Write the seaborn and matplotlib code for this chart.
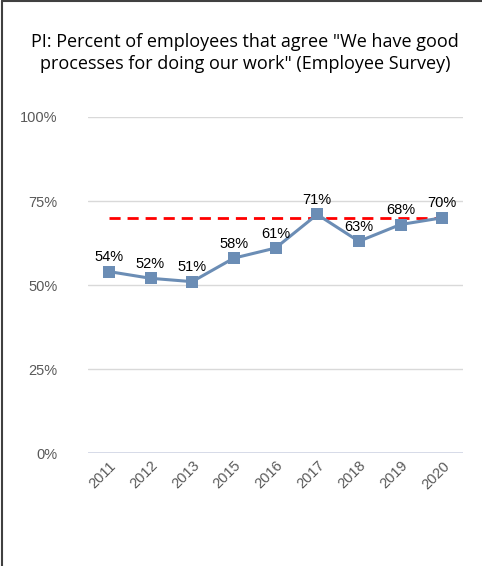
import matplotlib
matplotlib.use("Agg")
import matplotlib.pyplot as plt
from matplotlib.lines import Line2D
import pandas as pd
import seaborn as sns

years = ["2011", "2012", "2013", "2015", "2016", "2017", "2018", "2019", "2020"]
agree_pct = [54, 52, 51, 58, 61, 71, 63, 68, 70]
target_pct = 70

df = pd.DataFrame({"year": years, "pct": agree_pct})

sns.set_theme(style="white")
plt.rcParams["font.family"] = ["Liberation Sans", "DejaVu Sans"]

fig = plt.figure(figsize=(4.82, 5.66), dpi=100)
ax = fig.add_axes([0.1826, 0.1996, 0.778, 0.5937])

# gridlines
for v in [25, 50, 75, 100]:
    ax.axhline(v, color="#d9d9d9", lw=1, zorder=0)
ax.axhline(0, color="#d0d4e4", lw=1.2, zorder=0)

# target line
ax.plot([0, len(years) - 1], [target_pct, target_pct], color="#ff0000",
        lw=2, ls=(0, (4, 2.5)), zorder=2)

sns.lineplot(data=df, x="year", y="pct", ax=ax, color="#6b8db5", lw=2.2,
             marker="s", markersize=9, markeredgewidth=0, sort=False, zorder=3)

for i, v in enumerate(agree_pct):
    ax.text(i, v + 2.2, f"{v}%", ha="center", va="bottom", fontsize=10.5,
            color="#000000", zorder=4)

ax.set_xlim(-0.5, len(years) - 0.5)
ax.set_ylim(0, 100)
ax.set_yticks([0, 25, 50, 75, 100])
ax.set_yticklabels([f"{t}%" for t in [0, 25, 50, 75, 100]])
ax.set_xlabel("")
ax.set_ylabel("")
for s in ax.spines.values():
    s.set_visible(False)
ax.tick_params(axis="y", length=0, pad=22, labelsize=10.5, labelcolor="#595959")
ax.tick_params(axis="x", length=0, pad=4, labelsize=10.5, labelcolor="#595959")
for lab in ax.get_xticklabels():
    lab.set_rotation(45)
    lab.set_ha("right")
    lab.set_rotation_mode("anchor")

fig.text(0.508, 0.907, "PI: Percent of employees that agree \"We have good\nprocesses for doing our work\" (Employee Survey)",
         ha="center", va="center", fontsize=13, family=["Open Sans", "DejaVu Sans"],
         color="#000000", linespacing=1.3)

# figure frame on top and left
fig.add_artist(Line2D([0.005, 0.005], [0, 0.998], transform=fig.transFigure, color="#404040", lw=1.5))
fig.add_artist(Line2D([0.005, 1], [0.998, 0.998], transform=fig.transFigure, color="#404040", lw=1.5))

fig.savefig("out.png", dpi=100)
